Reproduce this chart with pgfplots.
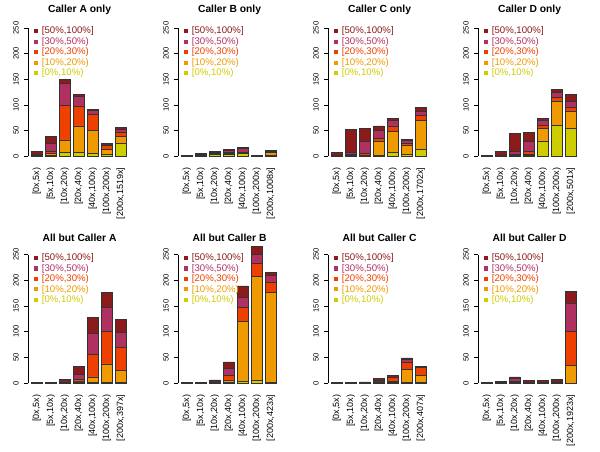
\documentclass[border=0pt]{standalone}
\usepackage{pgfplots}
\usepackage{pgfplotstable}
\pgfplotsset{compat=1.18}
\usepackage{fontspec}
\setmainfont{Liberation Sans}
\definecolor{c1}{HTML}{CDCD00}
\definecolor{c2}{HTML}{EE9A00}
\definecolor{c3}{HTML}{EE4000}
\definecolor{c4}{HTML}{B03060}
\definecolor{c5}{HTML}{8B1A1A}

\pgfplotstableread{
x a b c d e
0 1 0 1 1 7
1 2 3 5 15 13
2 8 24 67 44 6
3 7 52 39 18 5
4 6 45 30 8 3
5 3 10 9 1 2
6 25 13 8 6 4
}\tA
\pgfplotstableread{
x a b c d e
0 0 0 0 0 1
1 1 1 0 1 2
2 3 2 1 1 3
3 4 2 1 4 3
4 6 1 1 7 3
5 1 0 0 0 1
6 1 6 1 1 3
}\tB
\pgfplotstableread{
x a b c d e
0 1 0 0 1 6
1 2 1 1 3 45
2 1 1 3 25 25
3 2 27 6 16 8
4 7 41 11 11 4
5 3 19 3 6 2
6 14 56 10 8 7
}\tC
\pgfplotstableread{
x a b c d e
0 0 0 0 0 1
1 0 0 0 1 9
2 1 1 1 6 36
3 2 2 5 20 18
4 30 24 7 10 3
5 60 48 6 11 6
6 55 32 9 11 13
}\tD
\pgfplotstableread{
x a b c d e
0 0 0 0 0 0.5
1 0 0 0 0 0.5
2 1 1 1 1 3
3 2 2 3 10 16
4 1 11 44 41 30
5 1 36 63 47 30
6 1 24 45 29 25
}\tE
\pgfplotstableread{
x a b c d e
0 0 0 0 0 0.5
1 0 0 0 0 0.5
2 1 0 1 1 3
3 2 4 8 14 13
4 4 116 27 20 22
5 5 202 27 17 15
6 2 174 21 13 6
}\tF
\pgfplotstableread{
x a b c d e
0 0 0 0 0 0.5
1 0 0 0 0 0.5
2 1 0 0 0 1
3 1 1 1 3 3
4 1 3 7 1 3
5 1 26 14 5 3
6 1 13 16 0 2
}\tG
\pgfplotstableread{
x a b c d e
0 0 0 0 0 0.5
1 1 0 0 0 2
2 1 0 2 7 2
3 1 0 1 0 3
4 1 0 1 0 3
5 1 0 1 1 4
6 0 34 67 55 22
}\tH

\pgfplotsset{
  sqleg/.style={legend image code/.code={\fill[##1,draw=none] (0pt,-2.1pt) rectangle (4.2pt,2.1pt); \path[draw=none,fill=none] (0pt,0pt) -- (5.8pt,0pt);}},
  seg/.style={draw=black!80, line width=0.6pt},
  panelstyle/.style={
    scale only axis, width=103.3pt, height=147.5pt,
    anchor=south west,
    ybar stacked, bar width=0.74,
    xmin=-0.63, xmax=6.75, ymin=-10.6, ymax=276.7,
    clip=false,
    axis y line*=left, axis x line*=bottom,
    axis line style={draw=none},
    xtick={0,...,6},
    xtick style={draw=none},
    ytick={0,50,...,250},
    ytick style={black, line width=0.5pt},
    tick align=outside, major tick length=4pt,
    /pgf/number format/assume math mode=true,
    yticklabel style={rotate=90, anchor=south, font=\fontsize{7.6}{8}\selectfont, inner sep=0pt},
    yticklabel shift=5pt,
    xticklabel style={rotate=90, anchor=east, font=\fontsize{9}{10}\selectfont, inner sep=0pt},
    xticklabel shift=2pt,
    every axis title/.style={font=\bfseries\fontsize{10.3}{12}\selectfont, at={(0.5,1)}, anchor=south, inner sep=0.5pt, yshift=-1pt},
    legend reversed,
    legend cell align=left,
    legend style={at={(axis cs:-0.2,256)}, anchor=north west, draw=none, fill=none,
      font=\fontsize{9.6}{10}\selectfont, row sep=-2pt, inner sep=0pt},
  }
}

\newcommand{\panel}[5]{%
\begin{axis}[panelstyle, at={(#1pt,#2pt)}, title={#3},
  xticklabels={{[0x,5x)},{[5x,10x)},{[10x,20x)},{[20x,40x)},{[40x,100x)},{[100x,200x)},{#5}}]
\addplot[seg, fill=c1, sqleg] table[x=x,y=a]{#4};
\addlegendentry{\textcolor{c1}{[0\%,10\%)}}
\addplot[seg, fill=c2, sqleg] table[x=x,y=b]{#4};
\addlegendentry{\textcolor{c2}{[10\%,20\%)}}
\addplot[seg, fill=c3, sqleg] table[x=x,y=c]{#4};
\addlegendentry{\textcolor{c3}{[20\%,30\%)}}
\addplot[seg, fill=c4, sqleg] table[x=x,y=d]{#4};
\addlegendentry{\textcolor{c4}{[30\%,50\%)}}
\addplot[seg, fill=c5, sqleg] table[x=x,y=e]{#4};
\addlegendentry{\textcolor{c5}{[50\%,100\%]}}
\draw[black, line width=0.5pt] (axis cs:-0.63,0) -- (axis cs:-0.63,250);
\end{axis}}

\begin{document}
\begin{tikzpicture}[x=1pt,y=1pt]
\useasboundingbox (0,0) rectangle (600,451);
\panel{27.9}{289.3}{Caller A only}{\tA}{[200x,1519x]}
\panel{177.9}{289.3}{Caller B only}{\tB}{[200x,1008x]}
\panel{327.9}{289.3}{Caller C only}{\tC}{[200x,1702x]}
\panel{477.9}{289.3}{Caller D only}{\tD}{[200x,501x]}
\panel{27.9}{62.6}{All but Caller A}{\tE}{[200x,397x]}
\panel{177.9}{62.6}{All but Caller B}{\tF}{[200x,423x]}
\panel{327.9}{62.6}{All but Caller C}{\tG}{[200x,407x]}
\panel{477.9}{62.6}{All but Caller D}{\tH}{[200x,1923x]}
\end{tikzpicture}
\end{document}
